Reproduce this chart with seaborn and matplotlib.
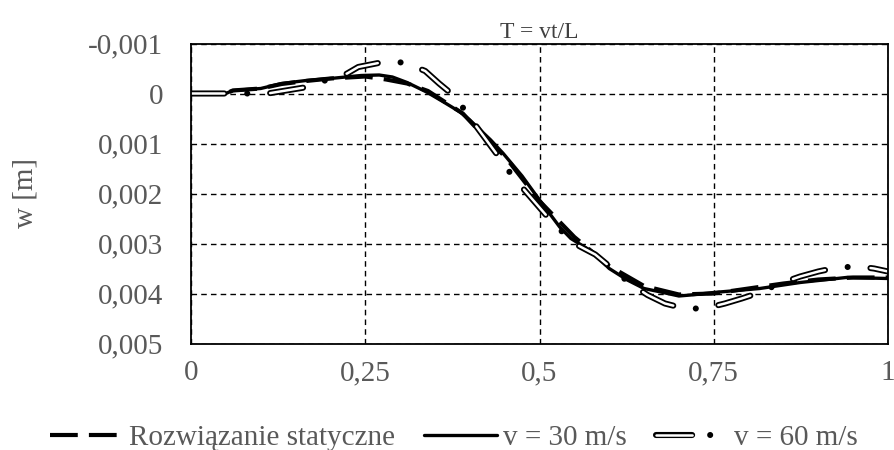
import numpy as np
import pandas as pd
import matplotlib
matplotlib.use("Agg")
import matplotlib.pyplot as plt
import seaborn as sns
from matplotlib.ticker import FixedLocator, FixedFormatter
from matplotlib.legend_handler import HandlerTuple
from matplotlib.lines import Line2D

# ---- data ----
t_static = [0, 0.05, 0.06, 0.1, 0.13, 0.165, 0.2, 0.25, 0.28, 0.31, 0.34, 0.39, 0.43,
            0.45, 0.5, 0.55, 0.6, 0.65, 0.7, 0.75, 0.8, 0.85, 0.9, 0.95, 1.0]
w_static = [0, 0, -0.00006, -0.0001, -0.00019, -0.00025, -0.0003, -0.00034, -0.00028,
            -0.0002, -0.00005, 0.0004, 0.001, 0.00125, 0.00215, 0.00287, 0.00345,
            0.00385, 0.00402, 0.004, 0.0039, 0.0038, 0.00372, 0.00368, 0.00368]

t_v30 = [0, 0.05, 0.06, 0.1, 0.13, 0.165, 0.2, 0.244, 0.27, 0.289, 0.31, 0.338, 0.36,
         0.386, 0.40, 0.43, 0.448, 0.475, 0.5, 0.529, 0.545, 0.568, 0.578, 0.6, 0.626,
         0.65, 0.674, 0.7, 0.717, 0.75, 0.816, 0.874, 0.94, 1.0]
w_v30 = [0, 0, -0.00006, -0.0001, -0.0002, -0.00026, -0.0003, -0.00036, -0.00037,
         -0.00033, -0.00022, -0.00003, 0.00015, 0.00037, 0.00053, 0.00093, 0.0012,
         0.00165, 0.00213, 0.00267, 0.0029, 0.0031, 0.0032, 0.0035, 0.00373, 0.0039,
         0.00397, 0.00405, 0.00403, 0.00398, 0.0039, 0.00378, 0.00368, 0.0037]

t_v60 = [0, 0.05, 0.08, 0.11, 0.167, 0.2, 0.224, 0.24, 0.276, 0.306, 0.336, 0.356,
         0.376, 0.395, 0.41, 0.445, 0.461, 0.482, 0.518, 0.55, 0.58, 0.63, 0.655, 0.68,
         0.708, 0.737, 0.766, 0.79, 0.812, 0.845, 0.874, 0.9, 0.927, 0.957, 0.98, 1.0]
w_v60 = [0, 0, 0, 0, -0.00013, -0.0003, -0.0004, -0.00053, -0.00063, -0.00062, -0.00045,
         -0.0002, 0.00003, 0.00037, 0.00067, 0.00133, 0.00165, 0.00199, 0.00257, 0.003,
         0.00322, 0.0038, 0.00403, 0.0042, 0.0043, 0.0043, 0.0042, 0.0041, 0.004, 0.0038,
         0.00366, 0.00356, 0.00348, 0.00346, 0.0035, 0.00356]

x_ticks = [0, 0.25, 0.5, 0.75, 1]
x_labels = ["0", "0,25", "0,5", "0,75", "1"]
y_ticks = [-0.001, 0, 0.001, 0.002, 0.003, 0.004, 0.005]
y_labels = ["-0,001", "0", "0,001", "0,002", "0,003", "0,004", "0,005"]

labels = ["Rozwiązanie statyczne", "v = 30 m/s", "v = 60 m/s"]
title = "T = vt/L"
ylabel = "w [m]"

# ---- style ----
sns.set_theme(style="white")
plt.rcParams["font.family"] = ["Liberation Serif", "DejaVu Serif"]
plt.rcParams["lines.scale_dashes"] = False
txt = "#595959"

fig = plt.figure(figsize=(8.94, 4.5), dpi=100)
ax = fig.add_axes([191 / 894, 1 - 343.5 / 450, (888 - 191) / 894, (343.5 - 43.5) / 450])

df_s = pd.DataFrame({"T": t_static, "w": w_static})
df_30 = pd.DataFrame({"T": t_v30, "w": w_v30})
df_60 = pd.DataFrame({"T": t_v60, "w": w_v60})

dash_static = (0, (20, 8))
D, G = 24, 16.5
dash_60_black = (0, (D, G, 0.01, G))
dash_60_white = (0, (D, 2 * G + 0.01))

sns.lineplot(data=df_s, x="T", y="w", ax=ax, color="black", lw=3.0,
             linestyle=dash_static, dash_capstyle="butt")
sns.lineplot(data=df_30, x="T", y="w", ax=ax, color="black", lw=2.4)
sns.lineplot(data=df_60, x="T", y="w", ax=ax, color="black", lw=4.4,
             linestyle=dash_60_black, dash_capstyle="round")
sns.lineplot(data=df_60, x="T", y="w", ax=ax, color="white", lw=1.8,
             linestyle=dash_60_white, dash_capstyle="round")

ax.set_xlim(0, 1)
ax.set_ylim(0.005, -0.001)
ax.xaxis.set_major_locator(FixedLocator(x_ticks))
ax.xaxis.set_major_formatter(FixedFormatter(x_labels))
ax.yaxis.set_major_locator(FixedLocator(y_ticks))
ax.yaxis.set_major_formatter(FixedFormatter(y_labels))
ax.grid(True, color="black", linestyle=(0, (4, 3)), lw=1.0)
for sp in ax.spines.values():
    sp.set_color("black")
    sp.set_linewidth(1.3)
ax.tick_params(axis="both", labelsize=21, colors=txt, length=0)
ax.tick_params(axis="x", pad=12)
ax.tick_params(axis="y", pad=20)
ax.set_xlabel("")
ax.set_ylabel(ylabel, fontsize=21, color=txt, labelpad=36)
ax.set_title(title, fontsize=17, color="#404040", pad=4)

h1 = Line2D([], [], color="black", lw=3.0, linestyle=dash_static, dash_capstyle="butt")
h2 = Line2D([], [], color="black", lw=2.4)
h3a = Line2D([], [], color="black", lw=4.4, linestyle=(0, (26, 13, 0.01, 30)), dash_capstyle="round")
h3b = Line2D([], [], color="white", lw=1.8, linestyle=(0, (26, 43.01)), dash_capstyle="round")
leg = fig.legend([h1, h2, (h3a, h3b)], labels, loc="center",
                 bbox_to_anchor=(0.508, 1 - 438 / 450), ncol=3, frameon=False,
                 fontsize=21, handlelength=2.5, handletextpad=0.2, columnspacing=1.0,
                 handler_map={tuple: HandlerTuple(ndivide=1)})
for t in leg.get_texts():
    t.set_color(txt)

fig.savefig("out.png", dpi=100)
